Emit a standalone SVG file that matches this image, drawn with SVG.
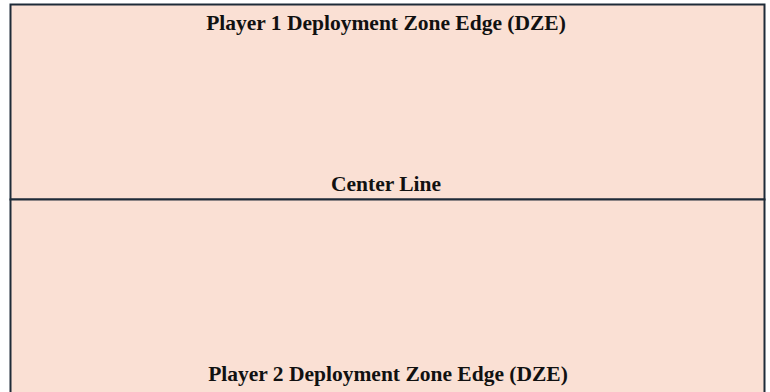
<svg xmlns="http://www.w3.org/2000/svg" width="770" height="392" viewBox="0 0 770 392">
<style>
.zone{fill:#FAE0D4;stroke:#1E2B38;stroke-width:2}
.lbl{font-family:"Liberation Serif",serif;font-weight:bold;font-size:21.5px;fill:#111;text-anchor:middle}
</style>
<rect width="770" height="392" fill="#ffffff"/>
<g id="player1-zone">
<rect class="zone" x="10.5" y="4.5" width="754" height="195"/>
<text class="lbl" x="386" y="30">Player 1 Deployment Zone Edge (DZE)</text>
<text class="lbl" x="386" y="191">Center Line</text>
</g>
<g id="player2-zone">
<rect class="zone" x="10.5" y="199.5" width="754" height="200"/>
<text class="lbl" x="388" y="381">Player 2 Deployment Zone Edge (DZE)</text>
</g>
</svg>
